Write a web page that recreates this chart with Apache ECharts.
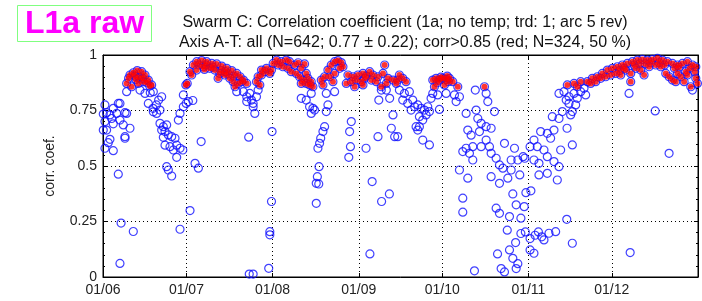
<!DOCTYPE html>
<html>
<head>
<meta charset="utf-8">
<script src="https://cdn.jsdelivr.net/npm/echarts@6/dist/echarts.min.js"></script>
<style>
  html, body { margin: 0; padding: 0; background: #fff; }
  #chart { width: 702px; height: 301px; }
</style>
</head>
<body>
<div id="chart"></div>
<script>
// x = days since 01/06, y = correlation coefficient
const juneData = [
  [0.1, 0.734], [0.7, 0.775], [1.3, 0.74], [3.7, 0.76], [5.5, 0.782], [2.5, 0.73], [4.9, 0.737], [7.9, 0.74],
  [0.7, 0.70], [3.7, 0.69], [6.1, 0.707], [7.3, 0.685], [9.7, 0.67], [1.3, 0.662], [2.5, 0.62], [1.9, 0.605],
  [0.7, 0.58], [3.7, 0.569], [7.9, 0.625], [7.9, 0.632], [8.5, 0.737], [3.1, 0.714], [0.1, 0.662], [6.1, 0.782],
  [5.5, 0.463], [6.5, 0.243], [10.9, 0.205], [6.1, 0.061],
  [8.5, 0.872], [9.7, 0.91], [10.9, 0.92], [12.3, 0.93], [13.9, 0.925], [15.1, 0.91], [16.3, 0.887], [17.5, 0.865],
  [18.1, 0.835], [10.3, 0.857], [12.7, 0.872], [14.5, 0.88], [9.2, 0.895], [11.5, 0.905], [13, 0.9], [14.2, 0.895],
  [15.8, 0.875], [16.8, 0.86], [11.8, 0.89], [8.5, 0.835], [13.3, 0.842], [15.1, 0.827], [17, 0.83],
  [16.3, 0.782], [18, 0.76], [19.2, 0.775], [20, 0.797], [21.1, 0.812], [18.1, 0.744], [20.5, 0.752], [19.3, 0.737],
  [20.5, 0.692], [21.7, 0.677], [21.1, 0.662], [22.3, 0.655], [22.9, 0.685], [23.5, 0.64], [21.7, 0.629], [24.7, 0.632],
  [25.9, 0.625], [22.3, 0.594], [24.1, 0.587], [26.5, 0.594], [25.3, 0.572], [27.7, 0.58], [28.7, 0.572], [26.5, 0.539],
  [22.9, 0.497], [23.5, 0.482], [24.7, 0.455], [27.7, 0.215],
  [27.1, 0.707], [27.7, 0.737], [28.9, 0.767], [29.9, 0.782], [28.9, 0.82], [29.8, 0.865]
];
const julyData = [
  [30.3, 0.872], [30.7, 0.79], [32.3, 0.795], [31.3, 0.299], [33.1, 0.512], [34.3, 0.49], [35.3, 0.61],
  [31.3, 0.925], [32.5, 0.955], [33.7, 0.97], [35.5, 0.975], [37.3, 0.97], [39.1, 0.962], [40.9, 0.96], [42.7, 0.95],
  [44.5, 0.94], [46.3, 0.93], [48.1, 0.917], [49.3, 0.902], [50.5, 0.887], [51.7, 0.872],
  [31.9, 0.91], [33.7, 0.932], [36, 0.947], [38.4, 0.94], [40.2, 0.932], [42, 0.917], [43.8, 0.91], [45.6, 0.895],
  [46.8, 0.88], [48.7, 0.872], [49.9, 0.88], [47.5, 0.857], [41.4, 0.895], [34.5, 0.955], [37, 0.955], [39.5, 0.945],
  [44, 0.925], [47, 0.905], [36.5, 0.935], [42.5, 0.93], [45, 0.915],
  [48.1, 0.835], [50.5, 0.835], [51.7, 0.812], [51.7, 0.79], [52.4, 0.63], [52.6, 0.013],
  [52.8, 0.827], [53.4, 0.797], [54, 0.767], [54.6, 0.737], [54, 0.782], [55.2, 0.812], [55.8, 0.842], [56.4, 0.865],
  [55.2, 0.88], [57, 0.91], [58.2, 0.925], [57, 0.932], [58.8, 0.94], [55.8, 0.902],
  [60.8, 0.655], [60.6, 0.34], [60, 0.204], [60, 0.19], [59.6, 0.039], [54, 0.013], [60, 0.917], [60.6, 0.932]
];
const augustData = [
  [61.2, 0.962], [62.4, 0.977], [64.1, 0.97], [65.9, 0.977], [67.1, 0.97], [68.9, 0.955], [70.2, 0.965], [72.5, 0.96],
  [71.3, 0.94], [73.1, 0.917], [73.7, 0.895], [74.9, 0.88], [75.5, 0.857],
  [63, 0.955], [64.7, 0.947], [66.5, 0.94], [67.7, 0.925], [69.5, 0.917], [70.7, 0.902], [71.9, 0.887], [73.1, 0.872],
  [74.3, 0.865], [71.3, 0.872],
  [74.9, 0.827], [71.3, 0.805], [73.1, 0.797], [74.3, 0.767], [75.5, 0.76], [74.9, 0.737], [76.1, 0.752],
  [79.7, 0.677], [79.1, 0.655], [78.3, 0.625], [77.9, 0.602], [77.3, 0.58], [77.7, 0.497], [77.1, 0.452], [76.7, 0.422],
  [77.6, 0.419], [76.7, 0.332],
  [78.5, 0.887], [79.7, 0.902], [80.9, 0.932], [82.1, 0.955], [83.3, 0.97], [84.5, 0.975], [85.7, 0.966], [86.3, 0.947],
  [85.1, 0.94], [83.3, 0.917], [81.5, 0.902], [79.1, 0.865], [82.7, 0.88],
  [80.3, 0.827], [83.3, 0.835], [80.9, 0.775], [80.3, 0.745],
  [88.1, 0.91], [89.9, 0.902], [91.7, 0.91], [87.5, 0.872], [89.3, 0.88], [91.1, 0.887], [90.5, 0.857],
  [89.3, 0.7], [88.7, 0.655], [89, 0.587], [88.4, 0.539]
];
const septemberData = [
  [93.5, 0.917], [94.7, 0.905], [95.9, 0.925], [97.1, 0.91], [98.9, 0.902], [101.3, 0.955], [100.7, 0.917],
  [102.5, 0.895], [104.3, 0.887], [105.5, 0.872],
  [92.9, 0.88], [94.1, 0.895], [96.5, 0.887], [98.3, 0.88], [100.1, 0.857], [101.9, 0.872],
  [93.5, 0.865], [100.1, 0.842], [101.9, 0.842], [99.2, 0.797], [103.1, 0.805], [104.3, 0.73], [103.7, 0.67],
  [104.9, 0.632], [98.9, 0.632], [94.6, 0.58], [96.8, 0.43], [103, 0.374], [100.2, 0.34], [96, 0.104],
  [106.6, 0.91], [107.8, 0.895], [109, 0.88], [106, 0.887],
  [106.6, 0.842], [108.4, 0.827], [110.2, 0.835], [107.8, 0.797], [109.6, 0.782], [111.4, 0.797], [112.1, 0.767],
  [110.8, 0.752], [113.2, 0.775], [114.4, 0.76], [115.6, 0.752], [116.8, 0.767], [117.4, 0.745], [116.2, 0.73],
  [113.8, 0.722], [115, 0.707], [112.6, 0.677], [113.2, 0.662], [113.8, 0.677], [115, 0.617], [117.4, 0.595],
  [106, 0.632], [121, 0.755],
  [118.6, 0.887], [119.8, 0.895], [121, 0.887], [119.2, 0.857], [120.2, 0.875], [121.5, 0.9],
  [118.6, 0.827], [120.4, 0.82], [118, 0.805]
];
const octoberData = [
  [122.2, 0.895], [123.4, 0.89], [124.6, 0.895], [125.8, 0.88], [127.6, 0.857], [122.8, 0.865], [123.8, 0.905],
  [124.2, 0.88], [123.4, 0.827], [126.4, 0.82], [128.2, 0.812], [127, 0.79],
  [133.9, 0.842], [137.2, 0.857], [137.8, 0.827], [138.4, 0.79], [140.8, 0.745], [130.6, 0.737], [134.2, 0.752],
  [134.8, 0.714], [136, 0.692], [137.8, 0.677], [139.6, 0.67], [131.2, 0.662], [132.4, 0.639], [135.4, 0.655],
  [137.8, 0.617], [136, 0.587], [139, 0.587], [133, 0.587], [130.6, 0.58], [129.4, 0.565], [131.8, 0.557],
  [133, 0.527], [139.6, 0.557], [141.4, 0.535], [144.4, 0.602], [142.6, 0.505], [143.8, 0.49], [148, 0.58],
  [146.8, 0.527], [149.2, 0.527], [146.8, 0.482], [145.6, 0.445], [142.6, 0.422], [139.6, 0.452], [149.9, 0.46],
  [151.1, 0.542], [128.2, 0.482], [131.2, 0.445], [129.4, 0.355], [129.4, 0.292], [133.6, 0.028],
  [141.4, 0.31], [142.6, 0.287], [146.2, 0.272], [147.4, 0.374], [148.6, 0.325], [150.3, 0.265], [151.5, 0.317],
  [152.1, 0.38], [145.4, 0.211], [148.4, 0.155], [141.9, 0.104], [146.2, 0.122], [147.4, 0.084], [149.2, 0.06],
  [143.2, 0.038], [144.4, 0.023], [148.6, 0.038], [150.3, 0.196], [151.9, 0.203], [151.7, 0.535]
];
const novemberData = [
  [153.9, 0.388], [153.6, 0.173], [155.4, 0.188], [156.6, 0.203], [157.8, 0.181], [153.6, 0.122], [155, 0.107],
  [153.6, 0.587], [155, 0.617], [156.2, 0.587], [157.4, 0.655], [155, 0.527], [156.8, 0.512], [156.8, 0.46],
  [158.6, 0.167], [160.4, 0.197], [162.8, 0.204], [166.8, 0.26], [168.8, 0.152],
  [158.6, 0.572], [159.8, 0.542], [162.2, 0.52], [164, 0.497], [163.4, 0.437], [159.8, 0.467], [164.6, 0.572],
  [168.8, 0.595], [159.8, 0.647], [161, 0.625], [162.2, 0.662], [166.9, 0.67], [161.6, 0.722], [164, 0.714],
  [165.2, 0.745], [168.2, 0.73], [168.8, 0.745],
  [164, 0.827], [165.8, 0.835], [167.6, 0.812], [169.4, 0.827], [170.6, 0.805], [171.8, 0.835], [173.6, 0.82],
  [167.6, 0.782], [170, 0.775], [166.6, 0.797],
  [167, 0.865], [169.4, 0.872], [171.8, 0.88], [174.2, 0.88], [176, 0.895], [177.8, 0.902], [179.6, 0.917],
  [181.4, 0.932], [170.6, 0.857], [173, 0.85], [175.4, 0.872], [177.2, 0.88], [179, 0.895], [180.8, 0.902],
  [182.6, 0.91]
];
const decemberData = [
  [183.2, 0.94], [185, 0.947], [186.8, 0.955], [188.6, 0.962], [190.4, 0.97], [192.2, 0.977], [194, 0.98],
  [195.8, 0.977], [197.6, 0.98], [199.4, 0.985], [201.2, 0.977], [203, 0.97], [204.8, 0.962], [206.6, 0.955],
  [208.4, 0.962], [210.2, 0.97], [212, 0.955], [213.2, 0.947],
  [184.4, 0.917], [186.2, 0.91], [188, 0.932], [189.8, 0.917], [191.6, 0.94], [193.4, 0.932], [194.6, 0.91],
  [189.8, 0.88], [196.4, 0.947], [198.8, 0.955], [200.6, 0.947], [202.4, 0.917], [203.6, 0.902], [204.8, 0.887],
  [206, 0.88], [206.6, 0.917], [207.8, 0.902], [209, 0.88], [210.2, 0.91], [211.4, 0.857], [212, 0.842],
  [213.2, 0.895], [213.8, 0.872], [209.6, 0.925],
  [185.8, 0.93], [187.5, 0.94], [191, 0.955], [193, 0.96], [195, 0.96], [197, 0.965], [200, 0.965], [202, 0.955],
  [205.5, 0.94], [207.2, 0.945], [211, 0.94], [212.8, 0.925],
  [189.2, 0.827], [198.6, 0.748], [203.6, 0.557], [189.6, 0.11]
];

// first day of each month (days since 01/06) and their labels
const monthStarts = [0, 30, 61, 92, 122, 153, 183];
const monthLabels = ['01/06', '01/07', '01/08', '01/09', '01/10', '01/11', '01/12'];
const dayMax = 214;
const redThreshold = 0.85;

const titleLines = [
  'Swarm C: Correlation coefficient (1a; no temp; trd: 1; arc 5 rev)',
  'Axis A-T: all (N=642; 0.77 \u00b1 0.22); corr>0.85 (red; N=324, 50 %)'
];

const allData = [].concat(juneData, julyData, augustData, septemberData, octoberData, novemberData, decemberData);
const redData = allData.filter(p => p[1] > redThreshold);

const font = 'Liberation Sans, Arial, sans-serif';
const chart = echarts.init(document.getElementById('chart'));

const dotted = { color: '#000', type: [1, 3], width: 1 };

chart.setOption({
  animation: false,
  backgroundColor: '#fff',
  title: [
    {
      text: 'L1a raw',
      left: 17, top: 5,
      padding: [3, 8, 2, 8],
      borderColor: '#80ff80', borderWidth: 1,
      textStyle: { color: '#ff00ff', fontSize: 32, fontWeight: 'bold', fontFamily: font }
    },
    {
      text: titleLines.join('\n'),
      left: 400, top: 8, textAlign: 'center',
      textStyle: { color: '#111', fontSize: 16, fontWeight: 'normal', lineHeight: 20, fontFamily: font }
    }
  ],
  grid: {
    left: 103, right: 4, top: 55, bottom: 24,
    show: true, borderColor: '#000', borderWidth: 1
  },
  xAxis: [
    {
      type: 'value', min: 0, max: dayMax,
      axisLine: { onZero: false, lineStyle: { color: '#000' } },
      axisTick: { inside: true, length: 4, customValues: monthStarts, lineStyle: { color: '#000' } },
      axisLabel: {
        customValues: monthStarts,
        formatter: v => monthLabels[monthStarts.indexOf(v)],
        color: '#222', fontSize: 14, margin: 6, fontFamily: font
      },
      splitLine: { show: true, lineStyle: dotted }
    },
    {
      type: 'value', min: 0, max: dayMax, position: 'top',
      axisLine: { onZero: false, lineStyle: { color: '#000' } },
      axisTick: { inside: true, length: 4, customValues: monthStarts, lineStyle: { color: '#000' } },
      axisLabel: { show: false },
      splitLine: { show: false }
    }
  ],
  yAxis: [
    {
      type: 'value', min: 0, max: 1, interval: 0.25,
      name: 'corr. coef.', nameLocation: 'middle', nameGap: 46,
      nameTextStyle: { color: '#222', fontSize: 14, fontFamily: font },
      axisLine: { onZero: false, lineStyle: { color: '#000' } },
      axisTick: { inside: true, length: 4, lineStyle: { color: '#000' } },
      minorTick: { show: true, splitNumber: 5, length: 2, lineStyle: { color: '#000' } },
      axisLabel: { color: '#222', fontSize: 14, margin: 6, fontFamily: font },
      splitLine: { show: true, lineStyle: dotted }
    },
    {
      type: 'value', min: 0, max: 1, interval: 0.25, position: 'right',
      axisLine: { onZero: false, lineStyle: { color: '#000' } },
      axisTick: { inside: true, length: 4, lineStyle: { color: '#000' } },
      minorTick: { show: true, splitNumber: 5, length: 2, lineStyle: { color: '#000' } },
      axisLabel: { show: false },
      splitLine: { show: false }
    }
  ],
  series: [
    {
      type: 'scatter',
      data: allData,
      symbol: 'circle',
      symbolSize: 8,
      itemStyle: { color: 'rgba(0,0,0,0)', borderColor: '#1010ff', borderWidth: 1.2 },
      emphasis: { disabled: true },
      z: 2
    },
    {
      type: 'scatter',
      data: redData,
      symbol: 'circle',
      symbolSize: 6,
      itemStyle: { color: '#ff0000' },
      emphasis: { disabled: true },
      z: 3
    }
  ]
});
</script>
</body>
</html>
